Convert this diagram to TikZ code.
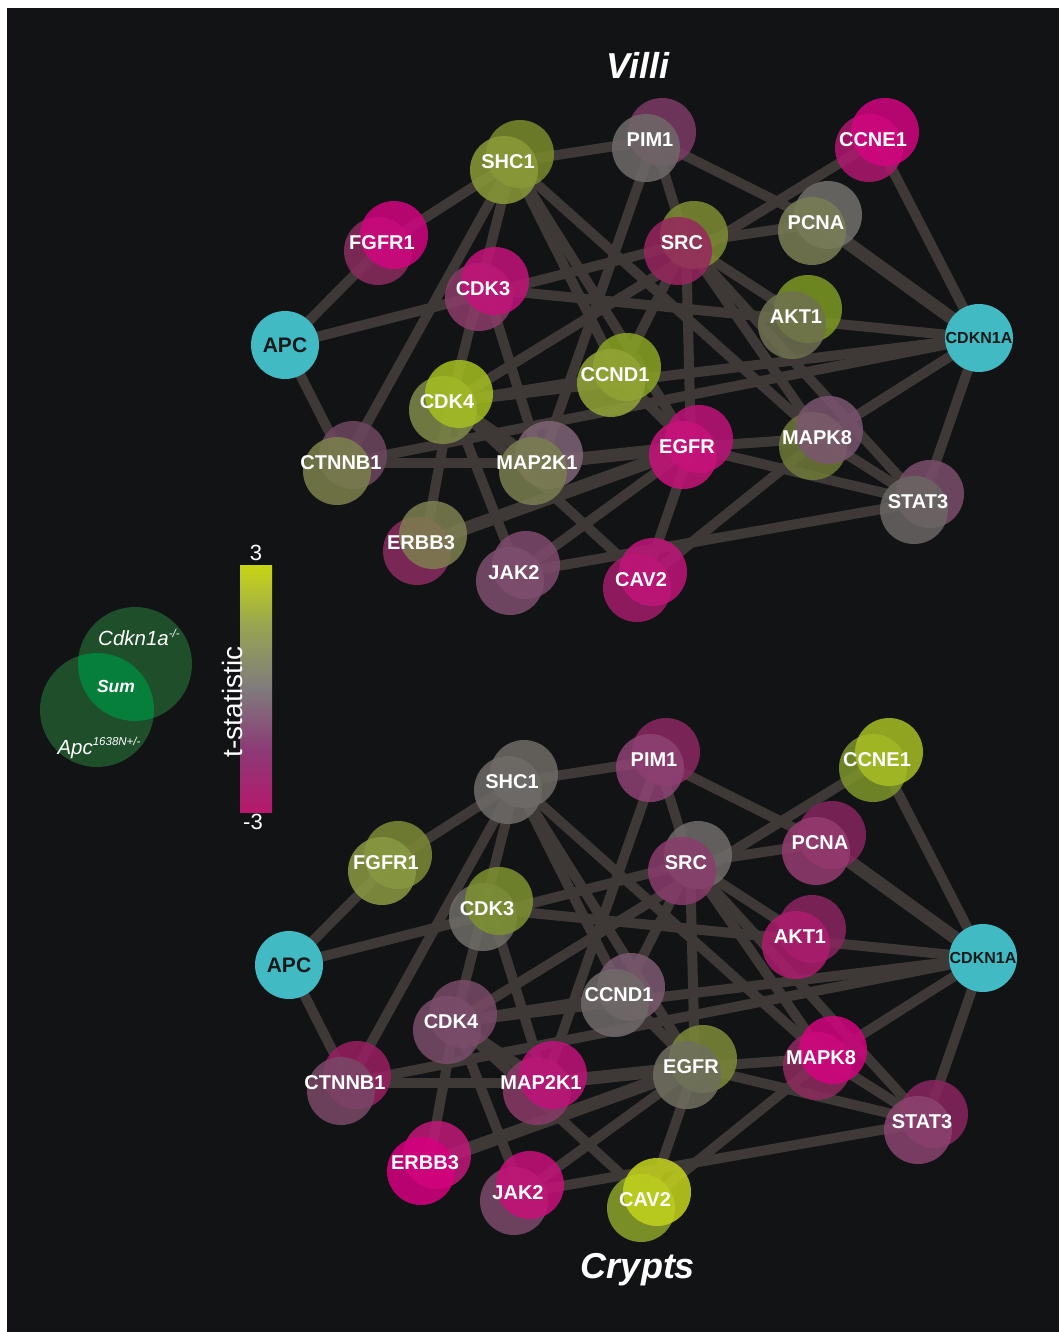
\documentclass[tikz,border=0pt]{standalone}
\usepackage{fontspec}
\setmainfont{Liberation Sans}
\usetikzlibrary{calc}
\definecolor{bgc}{HTML}{121315}
\definecolor{edgec}{HTML}{3E3936}
\definecolor{cyanN}{HTML}{41BAC4}
\definecolor{vennc}{HTML}{1E4E2A}
\definecolor{vennm}{HTML}{067F3B}
\definecolor{cbm}{HTML}{B8186C}
\definecolor{cbp}{HTML}{8C3A76}
\definecolor{cbg}{HTML}{7F7B7C}
\definecolor{cbo}{HTML}{98A452}
\definecolor{cby}{HTML}{C8D515}
\pgfdeclareverticalshading{tstat}{100bp}{color(0bp)=(cbm); color(25bp)=(cbm); color(37.5bp)=(cbp); color(50bp)=(cbg); color(62.5bp)=(cbo); color(75bp)=(cby); color(100bp)=(cby)}

\newcommand\posof[1]{%
  \coordinate (#1PIM1) at (654,140);
  \coordinate (#1SHC1) at (512,162);
  \coordinate (#1CCNE1) at (877,140);
  \coordinate (#1FGFR1) at (386,243);
  \coordinate (#1SRC) at (686,243);
  \coordinate (#1PCNA) at (820,223);
  \coordinate (#1CDK3) at (487,289);
  \coordinate (#1APC) at (285,345);
  \coordinate (#1AKT1) at (800,317);
  \coordinate (#1CDKN1A) at (979,338);
  \coordinate (#1CCND1) at (619,375);
  \coordinate (#1CDK4) at (451,402);
  \coordinate (#1EGFR) at (691,447);
  \coordinate (#1MAPK8) at (821,438);
  \coordinate (#1CTNNB1) at (345,463);
  \coordinate (#1MAP2K1) at (541,463);
  \coordinate (#1STAT3) at (922,502);
  \coordinate (#1ERBB3) at (425,543);
  \coordinate (#1JAK2) at (518,573);
  \coordinate (#1CAV2) at (645,580);
}
\newcommand\edgesof[1]{%
  \foreach \a/\b in {SHC1/PIM1, SHC1/FGFR1, FGFR1/APC, APC/SRC, APC/CTNNB1,
    SHC1/CTNNB1, SHC1/CDK4, CDK3/MAP2K1, CDK3/CDKN1A, SHC1/CCND1, SHC1/EGFR,
    SHC1/MAPK8, PIM1/MAP2K1, PIM1/SRC, PIM1/PCNA, CCNE1/CDKN1A, CCNE1/CDK4,
    SRC/PCNA, SRC/AKT1, SRC/STAT3, SRC/MAPK8, SRC/EGFR, SRC/CCND1, EGFR/CAV2,
    CDKN1A/MAPK8, CDKN1A/STAT3, MAPK8/STAT3, EGFR/STAT3, JAK2/STAT3, CAV2/MAPK8,
    EGFR/MAPK8, CTNNB1/MAP2K1, CTNNB1/CDKN1A, CDK4/CCND1, CDK4/CDKN1A,
    CDK4/MAP2K1, CDK4/JAK2, CDK4/CAV2, CDK4/ERBB3, JAK2/EGFR, CCND1/EGFR}
    {\draw[edgeline] (#1\a) -- (#1\b);}
  \foreach \a/\b in {PCNA/CDKN1A, MAP2K1/EGFR, ERBB3/EGFR}
    {\draw[edgeline, line width=13pt] (#1\a) -- (#1\b);}
}
% #1 coordinate, #2 label, #3 upper-right colour, #4 lower-left colour, #5 which on top (U/L)
\newcommand\gn[5]{%
  \definecolor{gUR}{HTML}{#3}\definecolor{gLL}{HTML}{#4}%
  \if#5U
    \fill[gfill=gLL] ([shift={(-8,8)}]#1) circle[radius=34];
    \fill[gfill=gUR] ([shift={(8,-8)}]#1) circle[radius=34];
  \else
    \fill[gfill=gUR] ([shift={(8,-8)}]#1) circle[radius=34];
    \fill[gfill=gLL] ([shift={(-8,8)}]#1) circle[radius=34];
  \fi
  \node[glab] (#1-l) at ([xshift=-4pt]#1) {#2};
}
\newcommand\sups[1]{\raisebox{0.75ex}{\fontsize{11.5}{12}\selectfont #1}}

\begin{document}
\begin{tikzpicture}[x=1pt,y=-1pt,
  edgeline/.style={draw=edgec, line width=10pt},
  gfill/.style={fill=#1, fill opacity=0.85},
  glab/.style={text=white, inner sep=0pt, font=\bfseries\fontsize{20}{24}\selectfont},
  hub/.style={circle, fill=cyanN, minimum size=68pt, inner sep=0pt, text=black!90,
     font=\bfseries\fontsize{21}{24}\selectfont},
  wtxt/.style={text=white, inner sep=0pt}]
\useasboundingbox (0,0) rectangle (1058,1332);
\fill[white] (0,0) rectangle (1058,1332);
\fill[bgc] (7,8) rectangle (1070,1345);

% coordinates of both networks
\posof{v}
\begin{scope}[shift={(4,620)}]
  \posof{c}
\end{scope}

% connectors
\edgesof{v}
\edgesof{c}

% ---- Villi nodes
\gn{vPIM1}{PIM1}{7D3A66}{6F6A69}{L}
\gn{vSHC1}{SHC1}{7A8C2C}{8B9B38}{L}
\gn{vCCNE1}{CCNE1}{D2047F}{B0176F}{U}
\gn{vFGFR1}{FGFR1}{D2047F}{8A2C5E}{U}
\gn{vSRC}{SRC}{7F8D32}{98265F}{L}
\gn{vPCNA}{PCNA}{73706D}{7A7E55}{L}
\gn{vCDK3}{CDK3}{C4127A}{8C3C68}{U}
\gn{vAKT1}{AKT1}{7E9A22}{6F7150}{L}
\gn{vCCND1}{CCND1}{8BA424}{92A436}{L}
\gn{vCDK4}{CDK4}{A6BF20}{7F8A48}{U}
\gn{vEGFR}{EGFR}{BE127A}{C8137B}{L}
\gn{vMAPK8}{MAPK8}{7A5570}{6F7A38}{U}
\gn{vCTNNB1}{CTNNB1}{6E4660}{7C814C}{L}
\gn{vMAP2K1}{MAP2K1}{7F6476}{7A7E50}{L}
\gn{vSTAT3}{STAT3}{7A4E6A}{6A6664}{L}
\gn{vERBB3}{ERBB3}{7E8050}{8C2C62}{U}
\gn{vJAK2}{JAK2}{804A6E}{7E4E6E}{L}
\gn{vCAV2}{CAV2}{C0157A}{A31C6A}{U}
\node[hub] (vAPCn) at (vAPC) {APC};
\node[hub, font=\bfseries\fontsize{16}{18}\selectfont] (vCDKN1An) at (vCDKN1A) {CDKN1A};

% ---- Crypts nodes
\gn{cPIM1}{PIM1}{8A2862}{8E4274}{L}
\gn{cSHC1}{SHC1}{6F6C67}{6E6B68}{L}
\gn{cCCNE1}{CCNE1}{A8BE24}{7E962A}{U}
\gn{cFGFR1}{FGFR1}{7E8A36}{8A9A42}{L}
\gn{cSRC}{SRC}{6F6C6A}{8A3C6C}{L}
\gn{cPCNA}{PCNA}{86245E}{953B70}{L}
\gn{cCDK3}{CDK3}{7E9230}{6F6D66}{U}
\gn{cAKT1}{AKT1}{8A2460}{AE1C6E}{L}
\gn{cCCND1}{CCND1}{7C5A70}{6F6A69}{L}
\gn{cCDK4}{CDK4}{7A4A68}{7A4C6A}{L}
\gn{cEGFR}{EGFR}{7E8A38}{6F6E5E}{L}
\gn{cMAPK8}{MAPK8}{D4037F}{8E2A5E}{U}
\gn{cCTNNB1}{CTNNB1}{9A1E62}{7A4868}{L}
\gn{cMAP2K1}{MAP2K1}{C0127A}{8A3A68}{U}
\gn{cSTAT3}{STAT3}{8A2460}{8A4470}{L}
\gn{cERBB3}{ERBB3}{C11778}{D6007F}{L}
\gn{cJAK2}{JAK2}{C8107A}{7C4A6A}{U}
\gn{cCAV2}{CAV2}{C4D41C}{8CA42A}{U}
\node[hub] (cAPCn) at (cAPC) {APC};
\node[hub, font=\bfseries\fontsize{16}{18}\selectfont] (cCDKN1An) at (cCDKN1A) {CDKN1A};

% ---- titles
\node[wtxt, anchor=base, font=\bfseries\itshape\fontsize{36}{40}\selectfont] (villi) at (638,79) {Villi};
\node[wtxt, anchor=base, font=\bfseries\itshape\fontsize{36}{40}\selectfont] (crypts) at (638,1278) {Crypts};

% ---- Venn legend
\fill[vennc] (135,664) circle[radius=57];
\fill[vennc] (97,710) circle[radius=57];
\begin{scope}
  \clip (135,664) circle[radius=57];
  \fill[vennm] (97,710) circle[radius=57];
\end{scope}
\node[wtxt, font=\itshape\fontsize{20.5}{22}\selectfont] (lcdk) at (139,637) {Cdkn1a\sups{-/-}};
\node[wtxt, font=\bfseries\itshape\fontsize{17.5}{20}\selectfont] (lsum) at (116,686) {Sum};
\node[wtxt, font=\itshape\fontsize{20.5}{22}\selectfont] (lapc) at (99,748) {Apc\sups{1638N+/-}};

% ---- colour bar
\shade[shading=tstat] (240,565) rectangle (272,812);
\node[wtxt, font=\fontsize{22}{24}\selectfont] (cbtop) at (256,553) {3};
\node[wtxt, font=\fontsize{22}{24}\selectfont] (cbbot) at (253,822) {-3};
\node[wtxt, rotate=90, font=\fontsize{28}{30}\selectfont] (cblab) at (232,702) {t-statistic};
\end{tikzpicture}
\end{document}
